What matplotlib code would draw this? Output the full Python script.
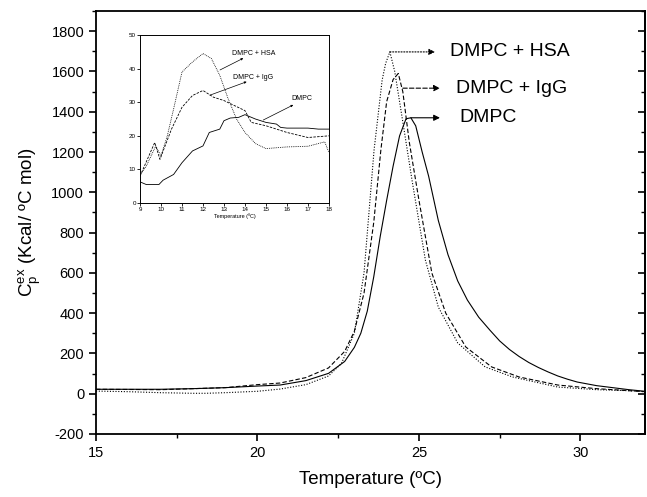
import numpy as np
import matplotlib
matplotlib.use('Agg')
import matplotlib.pyplot as plt
from matplotlib.ticker import MultipleLocator

plt.rcParams['font.family'] = ['Liberation Sans', 'DejaVu Sans']
plt.rcParams['axes.unicode_minus'] = False

# main thermograms
dmpc_t = [15, 16, 17, 18, 19, 20, 20.7, 21.5, 22.2, 22.7, 23.0, 23.2, 23.4, 23.6, 23.8,
          24.0, 24.2, 24.4, 24.6, 24.75, 24.9, 25.1, 25.3, 25.6, 25.9, 26.2, 26.5, 26.85,
          27.2, 27.5, 27.8, 28.1, 28.4, 28.7, 29.0, 29.3, 29.6, 29.9, 30.5, 31.0, 31.5, 32]
dmpc_cp = [22, 22, 22, 25, 30, 38, 43, 65, 101, 160, 230, 300, 410, 580, 780,
           960, 1130, 1280, 1365, 1370, 1330, 1200, 1080, 860, 690, 560, 465, 380,
           315, 262, 220, 185, 155, 130, 108, 88, 72, 58, 40, 30, 20, 12]

igg_t = [15, 17, 19, 20, 20.7, 21.5, 22.2, 22.7, 23.0, 23.3, 23.6, 23.82, 24.0, 24.2,
         24.36, 24.5, 24.7, 25.0, 25.4, 25.83, 26.45, 27.25, 28.1, 29.3, 30.5, 31.5, 32]
igg_cp = [22, 20, 30, 45, 53, 80, 128, 210, 310, 500, 850, 1209, 1450, 1560,
          1590, 1500, 1250, 961, 599, 400, 232, 133, 83, 43, 25, 15, 10]

hsa_t = [15, 16, 17, 18, 18.4, 19, 20, 20.7, 21.5, 22.2, 22.6, 23.0, 23.3, 23.61, 23.86,
         23.97, 24.1, 24.25, 24.5, 24.8, 25.2, 25.6, 26.2, 27.05, 27.9, 29.3, 30.5, 31.5, 32]
hsa_cp = [13, 10, 5, 2, 2, 5, 12, 23, 45, 88, 150, 300, 600, 1209, 1557,
          1641, 1697, 1600, 1350, 1046, 663, 430, 252, 133, 83, 33, 20, 15, 10]

# inset: low temperature region
ins_dmpc_t = [9, 9.3, 9.9, 10.1, 10.6, 11, 11.5, 12, 12.3, 12.8, 13, 13.3, 13.7, 14,
              14.5, 15, 15.5, 15.7, 16, 17, 17.5, 18]
ins_dmpc_cp = [6.3, 5.5, 5.5, 6.8, 8.5, 12, 15.5, 17, 21, 22, 24.5, 25.3, 25.5, 26.3,
               25, 24, 23.5, 22.5, 22.3, 22.3, 22, 22]
ins_igg_t = [9, 9.7, 9.95, 10.5, 11, 11.5, 12, 12.5, 13, 13.5, 14, 14.3, 15, 16, 17, 18]
ins_igg_cp = [8, 18, 13, 22, 28.5, 32, 33.5, 31.5, 30.5, 29, 27.5, 24, 23, 21, 19.5, 20]
ins_hsa_t = [9, 9.3, 9.75, 10.0, 10.3, 10.6, 11, 11.5, 12, 12.4, 12.8, 13.2, 13.6, 14,
             14.5, 15, 16, 17, 17.8, 18]
ins_hsa_cp = [8.3, 11, 17, 14, 20, 28, 39, 42, 44.5, 43, 38, 31, 25, 21,
              17.7, 16.2, 16.7, 16.9, 18.2, 15]

fig = plt.figure(figsize=(6.47, 4.97), dpi=100)
ax = fig.add_axes([0.1484, 0.1268, 0.8485, 0.851])

lw = 0.8
ax.plot(dmpc_t, dmpc_cp, color='black', lw=lw, ls='-')
ax.plot(igg_t, igg_cp, color='black', lw=lw, ls=(0, (4, 2)))
ax.plot(hsa_t, hsa_cp, color='black', lw=lw, ls=(0, (1, 1.5)))

ax.set_xlim(15, 32)
ax.set_ylim(-200, 1900)
ax.xaxis.set_major_locator(MultipleLocator(5))
ax.xaxis.set_minor_locator(MultipleLocator(2.5))
ax.yaxis.set_major_locator(MultipleLocator(200))
ax.yaxis.set_minor_locator(MultipleLocator(100))
ax.tick_params(which='both', direction='out', top=False, right=False, labelsize=10.5)
ax.tick_params(which='major', length=5, width=1.2)
ax.tick_params(which='minor', length=3, width=1.0)
for sp in ax.spines.values():
    sp.set_linewidth(1.3)

# inward ticks on right spine
axr = ax.secondary_yaxis('right')
axr.yaxis.set_major_locator(MultipleLocator(200))
axr.yaxis.set_minor_locator(MultipleLocator(100))
axr.tick_params(which='both', direction='in', labelright=False)
axr.tick_params(which='major', length=5, width=1.2)
axr.tick_params(which='minor', length=3, width=1.0)
axr.spines['right'].set_linewidth(1.3)

ax.set_xlabel('Temperature (ºC)', fontsize=13.5, labelpad=8)
ax.set_ylabel(r'$\mathregular{C_p^{ex}}$ (Kcal/ ºC mol)', fontsize=13.5, labelpad=6)

# peak labels with arrows
arrow = dict(arrowstyle='-|>', color='black', lw=0.8, mutation_scale=9,
             shrinkA=0, shrinkB=0)
i = int(np.argmax(hsa_cp))
ax.annotate('', xy=(25.5, hsa_cp[i]), xytext=(hsa_t[i], hsa_cp[i]),
            arrowprops=dict(arrow, ls=(0, (1, 1.5))))
ax.text(25.95, hsa_cp[i], 'DMPC + HSA', fontsize=14, va='center')
ax.annotate('', xy=(25.65, 1517), xytext=(24.5, 1517),
            arrowprops=dict(arrow, ls=(0, (4, 2))))
ax.text(26.15, 1517, 'DMPC + IgG', fontsize=14, va='center')
i = int(np.argmax(dmpc_cp))
ax.annotate('', xy=(25.65, dmpc_cp[i]), xytext=(24.75, dmpc_cp[i]),
            arrowprops=arrow)
ax.text(26.25, dmpc_cp[i], 'DMPC', fontsize=14, va='center')

# inset
ins = fig.add_axes([0.2164, 0.5915, 0.292, 0.338])
ins.plot(ins_dmpc_t, ins_dmpc_cp, color='black', lw=0.6, ls='-')
ins.plot(ins_igg_t, ins_igg_cp, color='black', lw=0.6, ls=(0, (3, 1.5)))
ins.plot(ins_hsa_t, ins_hsa_cp, color='black', lw=0.6, ls=(0, (1, 1.2)))
ins.set_xlim(9, 18)
ins.set_ylim(0, 50)
ins.xaxis.set_major_locator(MultipleLocator(1))
ins.yaxis.set_major_locator(MultipleLocator(10))
ins.tick_params(direction='out', length=2, width=0.6, labelsize=4.5, pad=1)
for sp in ins.spines.values():
    sp.set_linewidth(0.7)
ins.set_xlabel('Temperature (ºC)', fontsize=4, labelpad=1)

small = dict(arrowstyle='-|>', color='black', lw=0.5, mutation_scale=3,
             shrinkA=0, shrinkB=0)
ins.annotate('', xy=(13.92, 43.1), xytext=(12.81, 39.6), arrowprops=small)
ins.text(13.4, 44.6, 'DMPC + HSA', fontsize=5, va='center')
ins.annotate('', xy=(14.08, 36.1), xytext=(12.33, 32.1), arrowprops=small)
ins.text(13.45, 37.5, 'DMPC + IgG', fontsize=5, va='center')
ins.annotate('', xy=(16.3, 29.2), xytext=(14.87, 24.7), arrowprops=small)
ins.text(16.2, 31, 'DMPC', fontsize=5, va='center')

fig.savefig('out.png', dpi=100)
